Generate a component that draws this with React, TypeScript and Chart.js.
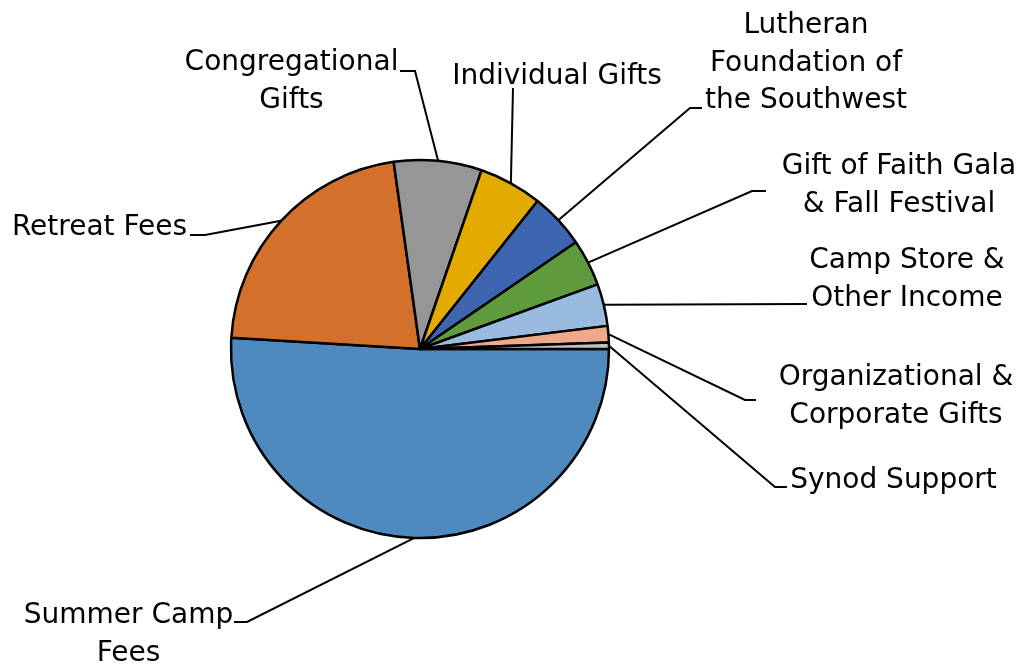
import React, { useEffect, useRef } from "react";
import { Chart, registerables } from "chart.js";

Chart.register(...registerables);

const categories = [
  "Summer Camp Fees",
  "Retreat Fees",
  "Congregational Gifts",
  "Individual Gifts",
  "Lutheran Foundation of the Southwest",
  "Gift of Faith Gala & Fall Festival",
  "Camp Store & Other Income",
  "Organizational & Corporate Gifts",
  "Synod Support",
];

const values = [50.9, 21.8, 7.5, 5.4, 4.75, 4.0, 3.6, 1.4, 0.55];

const labelLines = [
  ["Summer Camp", "Fees"],
  ["Retreat Fees"],
  ["Congregational", "Gifts"],
  ["Individual Gifts"],
  ["Lutheran", "Foundation of", "the Southwest"],
  ["Gift of Faith Gala", "& Fall Festival"],
  ["Camp Store &", "Other Income"],
  ["Organizational &", "Corporate Gifts"],
  ["Synod Support"],
];

const colors = [
  "#4F8ABE",
  "#D3702C",
  "#969696",
  "#E3AA00",
  "#3D65B0",
  "#5E9B3C",
  "#9ABBE0",
  "#F0A88A",
  "#C0C0C0",
];

// label layout (text centre x, first baseline y, leader path after the slice anchor)
const labelLayout: { cx: number; baseline: number; leader: number[][] }[] = [
  { cx: 128.5, baseline: 623, leader: [[247, 622], [234, 622]] },
  { cx: 99.5, baseline: 235, leader: [[205, 235], [190, 235]] },
  { cx: 291.5, baseline: 70, leader: [[415, 71], [400, 71]] },
  { cx: 557, baseline: 84, leader: [[513, 88]] },
  { cx: 806, baseline: 33, leader: [[690, 108], [702, 108]] },
  { cx: 899, baseline: 174, leader: [[752, 191], [766, 191]] },
  { cx: 907, baseline: 268, leader: [[807, 304]] },
  { cx: 896, baseline: 385, leader: [[745, 400], [756, 400]] },
  { cx: 893.5, baseline: 488, leader: [[775, 487], [787, 487]] },
];

const LINE_HEIGHT = 37.5;
const FONT = '28px "DejaVu Sans"';

const labelPlugin = {
  id: "pieLabels",
  afterDatasetsDraw(chart: any) {
    const ctx = chart.ctx as CanvasRenderingContext2D;
    const meta = chart.getDatasetMeta(0);
    ctx.save();
    ctx.font = FONT;
    ctx.fillStyle = "#000";
    ctx.strokeStyle = "#000";
    ctx.lineWidth = 2;
    meta.data.forEach((arc: any, i: number) => {
      const p = arc.getProps(["x", "y", "startAngle", "endAngle", "outerRadius"], true);
      const mid = (p.startAngle + p.endAngle) / 2;
      const ax = p.x + Math.cos(mid) * p.outerRadius;
      const ay = p.y + Math.sin(mid) * p.outerRadius;
      const L = labelLayout[i];
      ctx.beginPath();
      ctx.moveTo(ax, ay);
      L.leader.forEach(([px, py]) => ctx.lineTo(px, py));
      ctx.stroke();
      ctx.textAlign = "center";
      ctx.textBaseline = "alphabetic";
      labelLines[i].forEach((t, j) => ctx.fillText(t, L.cx, L.baseline + j * LINE_HEIGHT));
    });
    ctx.restore();
  },
};

export default function App() {
  const ref = useRef<HTMLCanvasElement | null>(null);
  useEffect(() => {
    if (!ref.current) return;
    const chart = new Chart(ref.current, {
      type: "pie",
      data: {
        labels: categories,
        datasets: [
          {
            data: values,
            backgroundColor: colors,
            borderColor: "#000",
            borderWidth: 2.5,
          },
        ],
      },
      options: {
        responsive: false,
        animation: false,
        rotation: 90,
        radius: 189,
        layout: { padding: { left: 0, right: 189, top: 31, bottom: 0 } },
        plugins: {
          legend: { display: false },
          tooltip: { enabled: false },
        },
      },
      plugins: [labelPlugin],
    });
    return () => chart.destroy();
  }, []);
  return (
    <div style={{ position: "absolute", left: 0, top: 0, width: 1029, height: 667, background: "#fff" }}>
      <canvas ref={ref} width={1029} height={667} />
    </div>
  );
}
